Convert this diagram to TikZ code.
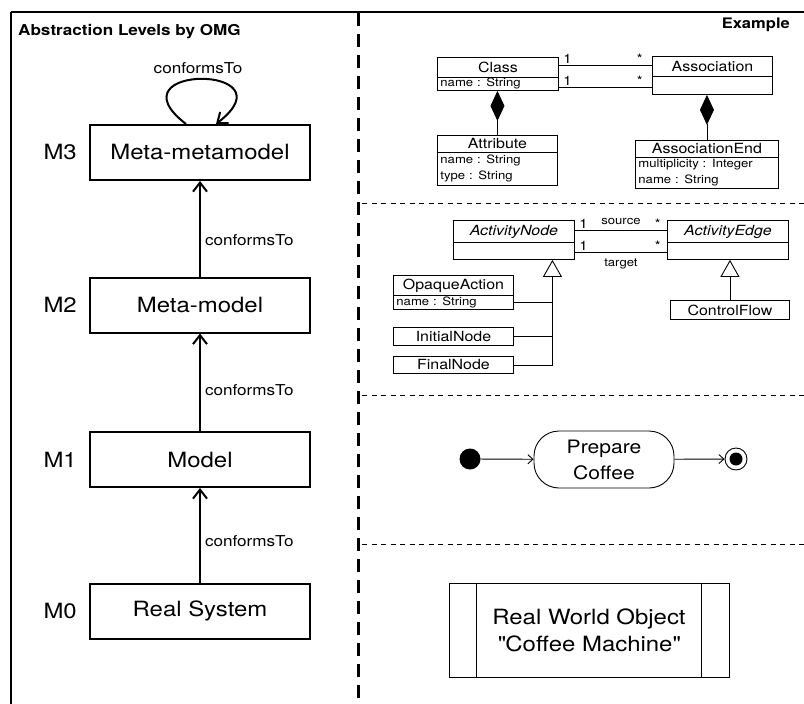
\documentclass[tikz,border=0pt]{standalone}
\usepackage{fontspec}
\setmainfont[FakeStretch=1.14]{TeX Gyre Heros}
\usetikzlibrary{arrows.meta,calc}
\newcommand\fsz[2]{\fontsize{#1}{#2}\selectfont}
\begin{document}
\begin{tikzpicture}[x=1pt,y=-1pt,
  level/.style={draw, line width=2pt, minimum width=220pt, minimum height=55pt, inner sep=0pt, font=\fsz{21}{25}},
  mlab/.style={font=\fsz{21}{25}, anchor=east, inner sep=0pt},
  conf/.style={line width=2pt, -{Straight Barb[length=9pt,width=14pt]}},
  clab/.style={font=\fsz{15}{18}, inner sep=0pt},
  uml/.style={draw, line width=0.9pt, anchor=north west, inner sep=0pt},
  cname/.style={uml, font=\fsz{14}{17}},
  iname/.style={uml, font=\fsz{14}{17}\itshape},
  cattr/.style={uml, font=\fsz{11.5}{16}, align=left, inner xsep=3pt},
  mult/.style={font=\fsz{13}{15}, inner sep=0pt},
  rlab/.style={font=\fsz{11.5}{14}, inner sep=0pt},
  assoc/.style={line width=0.9pt},
  comp/.style={line width=0.9pt, -{Diamond[length=30pt,width=14pt]}},
  gen/.style={line width=0.9pt, -{Triangle[open,length=17pt,width=19pt]}},
  flow/.style={line width=0.9pt, -{Straight Barb[length=5pt,width=9pt]}},
  panelsep/.style={line width=1pt, dash pattern=on 5pt off 4.5pt}
]
\useasboundingbox (0,0) rectangle (804,704);

% frame and panel dividers
\draw[line width=2pt] (11,12) -- (804,12);
\draw[line width=1.3pt] (11,12) -- (11,704);
\draw[line width=3pt, dash pattern=on 13pt off 8pt] (358,13) -- (358,704);
\draw[panelsep] (362,203) -- (804,203);
\draw[panelsep] (362,395) -- (804,395);
\draw[panelsep] (362,544) -- (804,544);

% titles
\node[font=\bfseries\fsz{15}{18}, anchor=base west, inner sep=0pt] (ttl) at (18,35) {Abstraction Levels by OMG};
\node[font=\bfseries\fsz{14.5}{18}, anchor=base east, inner sep=0pt] (ex) at (790,28) {Example};

% abstraction levels
\node[level] (m3) at (200,152.5) {Meta-metamodel};
\node[level] (m2) at (200,305) {Meta-model};
\node[level] (m1) at (200,459.5) {Model};
\node[level] (m0) at (200,611) {Real System};
\node[mlab] (l3) at ([xshift=-12pt]m3.west) {M3};
\node[mlab] (l2) at ([xshift=-12pt]m2.west) {M2};
\node[mlab] (l1) at ([xshift=-12pt]m1.west) {M1};
\node[mlab] (l0) at ([xshift=-12pt]m0.west) {M0};

\draw[conf] (m0) -- (m1) node[clab, pos=0.44, anchor=west, xshift=4pt] (c0) {conformsTo};
\draw[conf] (m1) -- (m2) node[clab, pos=0.42, anchor=west, xshift=4pt] (c1) {conformsTo};
\draw[conf] (m2) -- (m3) node[clab, pos=0.38, anchor=west, xshift=4pt] (c2) {conformsTo};
\draw[conf] ([xshift=-14pt]m3.north) .. controls (108,64) and (294,64) .. ([xshift=16pt]m3.north);
\node[clab] (c3) at (198,68) {conformsTo};

% M3 example: classes and associations
\node[cname, minimum width=121pt, minimum height=20pt] (clsH) at (437,57) {Class};
\node[cattr, text width=115pt, minimum height=13pt] (clsA) at (437,77) {name : String};
\node[cname, minimum width=120pt, minimum height=20pt] (ascH) at (652,56) {Association};
\node[uml, minimum width=120pt, minimum height=18pt] (ascA) at (652,76) {};
\node[cname, minimum width=120pt, minimum height=17pt] (attH) at (437,135) {Attribute};
\node[cattr, text width=114pt, minimum height=33pt] (attA) at (437,152) {name : String\\type : String};
\node[cname, minimum width=143pt, minimum height=17pt] (aeH) at (635,140) {AssociationEnd};
\node[cattr, text width=137pt, minimum height=31pt] (aeA) at (635,157) {multiplicity : Integer\\name : String};

\draw[assoc] ([yshift=2pt]clsH.east) -- ([yshift=2pt]clsH.east -| ascH.west)
  node[mult, pos=0, anchor=south west, xshift=4pt, yshift=1.5pt] (k1) {1}
  node[mult, pos=1, anchor=south east, xshift=-9pt, yshift=1.5pt] (k2) {*};
\draw[assoc] ([yshift=-3.5pt]clsA.east) -- ([yshift=-3.5pt]clsA.east -| ascA.west)
  node[mult, pos=0, anchor=south west, xshift=4pt, yshift=1.5pt] (k3) {1}
  node[mult, pos=1, anchor=south east, xshift=-9pt, yshift=1.5pt] (k4) {*};
\draw[comp] (attH.north) -- (attH.north |- clsA.south);
\draw[comp] (aeH.north) -- (aeH.north |- ascA.south);

% M2 example: activity metamodel
\node[iname, minimum width=121pt, minimum height=22pt] (anH) at (453,220) {ActivityNode};
\node[uml, minimum width=121pt, minimum height=17pt] (anA) at (453,242) {};
\node[iname, minimum width=121pt, minimum height=22pt] (edH) at (667,220) {ActivityEdge};
\node[uml, minimum width=121pt, minimum height=17pt] (edA) at (667,242) {};

\draw[assoc] ([yshift=1pt]anH.east) -- ([yshift=1pt]anH.east -| edH.west)
  node[mult, pos=0, anchor=south west, xshift=4pt, yshift=1.5pt] (k5) {1}
  node[mult, pos=1, anchor=south east, xshift=-6pt, yshift=1.5pt] (k6) {*}
  node[rlab, pos=0.5, anchor=south, yshift=5pt] (src) {source};
\draw[assoc] ([yshift=-1.5pt]anA.east) -- ([yshift=-1.5pt]anA.east -| edA.west)
  node[mult, pos=0, anchor=south west, xshift=4pt, yshift=1.5pt] (k7) {1}
  node[mult, pos=1, anchor=south east, xshift=-6pt, yshift=1.5pt] (k8) {*}
  node[rlab, pos=0.5, anchor=north, yshift=-6pt] (tgt) {target};

\node[cname, minimum width=120pt, minimum height=20pt] (opH) at (393,275) {OpaqueAction};
\node[cattr, text width=114pt, minimum height=14pt] (opA) at (393,295) {name : String};
\node[cname, minimum width=120pt, minimum height=18pt] (ini) at (393,327) {InitialNode};
\node[cname, minimum width=120pt, minimum height=17pt] (fin) at (393,356) {FinalNode};
\node[cname, minimum width=119pt, minimum height=19pt] (cf) at (670,300) {ControlFlow};

\coordinate (gA) at ([xshift=38.5pt]anA.south);
\draw[gen] (fin.east) -| (gA);
\draw[assoc] (opA.east) -- (opA.east -| gA);
\draw[assoc] (ini.east) -- (ini.east -| gA);
\draw[gen] (cf.north) -- (cf.north |- edA.south);

% M1 example: activity
\node[circle, fill, inner sep=0pt, minimum size=21pt] (init) at (470,459) {};
\node[draw, line width=0.9pt, rounded corners=25pt, minimum width=140pt, minimum height=57pt,
      align=center, font=\fsz{18.5}{26}] (prep) at (604,459.5) {Prepare\\Coffee};
\node[circle, draw, line width=0.9pt, inner sep=0pt, minimum size=22pt] (fnl) at (736,459) {};
\node[circle, fill, inner sep=0pt, minimum size=13pt] (fnli) at (fnl) {};
\draw[flow] (init) -- (prep);
\draw[flow] (prep) -- (fnl);

% M0 example: real world object
\node[draw, line width=0.9pt, minimum width=280pt, minimum height=94pt, align=center,
      font=\fsz{21}{27}] (rwo) at (589,630) {Real World Object\\\textquotedbl Coffee Machine\textquotedbl};
\draw[line width=0.9pt] ([xshift=28pt]rwo.north west) -- ([xshift=28pt]rwo.south west);
\draw[line width=0.9pt] ([xshift=-28pt]rwo.north east) -- ([xshift=-28pt]rwo.south east);
\end{tikzpicture}
\end{document}
